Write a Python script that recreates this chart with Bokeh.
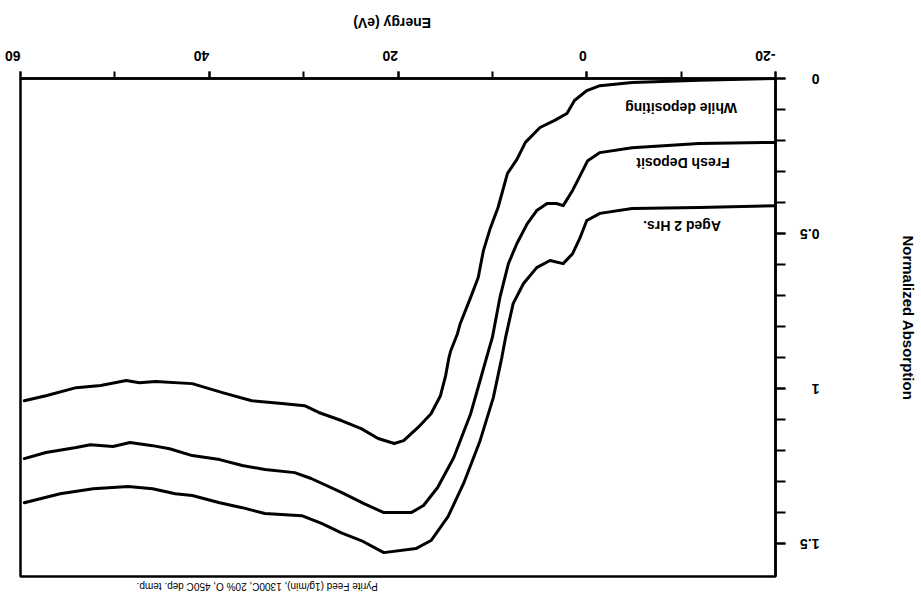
import math
from bokeh.plotting import figure
from bokeh.models import (Range1d, SingleIntervalTicker, FixedTicker, Label, LinearAxis,
                          NumeralTickFormatter, CustomJSTickFormatter)
from bokeh.embed import file_html
from bokeh.resources import INLINE

# ---- data ----
energy_depositing = [59.6, 57.3, 54.1, 51.5, 48.8, 47.4, 45.7, 41.8, 38.6, 35.5, 32.3, 29.9, 28.4, 26.0, 23.9,
                     22.1, 20.4, 19.4, 17.9, 16.5, 15.5, 14.95, 14.6, 14.4, 13.7, 13.4, 12.3, 11.5, 10.95, 10.2,
                     9.4, 8.4, 7.4, 6.5, 4.95, 3.4, 2.1, 1.3, 0.0, -1.4, -4.8, -11.9, -20.0]
abs_depositing = [1.039, 1.023, 0.997, 0.990, 0.974, 0.981, 0.977, 0.984, 1.013, 1.039, 1.048, 1.055, 1.077, 1.103, 1.129,
                  1.161, 1.177, 1.168, 1.126, 1.081, 1.023, 0.958, 0.900, 0.877, 0.823, 0.790, 0.706, 0.642, 0.555, 0.481,
                  0.416, 0.306, 0.261, 0.206, 0.158, 0.135, 0.113, 0.071, 0.039, 0.023, 0.013, 0.006, 0.0]

energy_fresh = [59.6, 57.3, 54.1, 52.6, 50.2, 48.4, 46.0, 44.2, 41.8, 38.9, 36.5, 34.1, 30.95, 29.2, 26.0,
                23.6, 21.5, 18.6, 17.3, 15.8, 14.1, 12.3, 11.3, 10.4, 10.0, 9.2, 8.3, 7.4, 6.3, 5.3,
                4.2, 3.2, 2.5, 1.5, 0.7, -0.1, -1.4, -4.8, -11.9, -20.0]
abs_fresh = [1.226, 1.206, 1.190, 1.181, 1.187, 1.174, 1.184, 1.194, 1.216, 1.229, 1.248, 1.261, 1.271, 1.290, 1.335,
             1.371, 1.400, 1.400, 1.377, 1.319, 1.223, 1.081, 0.974, 0.877, 0.835, 0.706, 0.597, 0.532, 0.468, 0.426,
             0.403, 0.403, 0.410, 0.361, 0.313, 0.265, 0.239, 0.223, 0.210, 0.206]

energy_aged = [59.6, 55.8, 52.3, 48.6, 46.0, 43.6, 41.8, 38.9, 36.5, 34.1, 30.2, 28.1, 26.0, 23.9, 21.5,
               18.1, 16.5, 14.7, 13.05, 11.3, 9.9, 9.0, 8.6, 7.8, 6.7, 5.3, 3.9, 2.5, 1.5, 0.7,
               0.0, -1.4, -4.8, -11.9, -20.0]
abs_aged = [1.368, 1.339, 1.323, 1.316, 1.323, 1.339, 1.345, 1.368, 1.384, 1.403, 1.410, 1.435, 1.465, 1.490, 1.529,
            1.516, 1.490, 1.413, 1.306, 1.168, 1.029, 0.900, 0.835, 0.726, 0.661, 0.610, 0.587, 0.597, 0.565, 0.513,
            0.458, 0.435, 0.419, 0.416, 0.410]

series_names = ["While depositing", "Fresh Deposit", "Aged 2 Hrs."]
label_x = [-10.0, -10.2, -10.1]
label_y = [0.094, 0.274, 0.477]

y_ticks = [0, 0.5, 1, 1.5]
y_minor = [0.1 * i for i in range(16)]

x_title = "Energy (eV)"
y_title = "Normalized Absorption"
top_title = "Pyrite Feed (1g/min), 1300C, 20% O, 450C dep. temp."

FONT = "Liberation Sans"
UP = math.pi  # the scanned page is upside down

p = figure(frame_width=755, frame_height=498,
           min_border_left=20, min_border_right=146, min_border_top=78, min_border_bottom=32,
           x_range=Range1d(60.0, -20.0), y_range=Range1d(1.606, 0.0),
           x_axis_location="above", y_axis_location="right",
           output_backend="svg", toolbar_location=None)

p.xgrid.visible = False
p.ygrid.visible = False
p.outline_line_color = "black"
p.outline_line_width = 2.5
p.background_fill_color = "white"
p.border_fill_color = "white"

xa = p.xaxis[0]
xa.ticker = SingleIntervalTicker(interval=20, num_minor_ticks=2)
xa.formatter = NumeralTickFormatter(format="0")
xa.axis_line_width = 2.5
xa.major_tick_line_width = 2
xa.minor_tick_line_width = 2
xa.major_tick_out = 7
xa.major_tick_in = 0
xa.minor_tick_out = 7
xa.minor_tick_in = 0
xa.major_label_orientation = UP
xa.major_label_standoff = 16
xa.major_label_text_font = FONT
xa.major_label_text_font_style = "bold"
xa.major_label_text_font_size = "14px"
xa.major_label_text_color = "black"

ya = p.yaxis[0]
ya.ticker = FixedTicker(ticks=y_ticks, minor_ticks=y_minor)
ya.axis_line_width = 2.5
ya.major_tick_line_width = 2
ya.minor_tick_line_width = 2
ya.major_tick_out = 10
ya.major_tick_in = 0
ya.minor_tick_out = 10
ya.minor_tick_in = 0
ya.major_label_orientation = UP
ya.major_label_standoff = 34
ya.major_label_text_font = FONT
ya.major_label_text_font_style = "bold"
ya.major_label_text_font_size = "14px"
ya.major_label_text_color = "black"


def title_axis(text, position, orientation, standoff, size, style):
    # an axis with no rule and no tick marks; its single tick label carries a title
    return LinearAxis(ticker=FixedTicker(ticks=[position], minor_ticks=[]),
                      formatter=CustomJSTickFormatter(args=dict(label=text), code="return label"),
                      axis_line_color=None, major_tick_line_color=None, minor_tick_line_color=None,
                      major_tick_out=0, major_tick_in=0, minor_tick_out=0, minor_tick_in=0,
                      major_label_orientation=orientation, major_label_standoff=standoff,
                      major_label_text_font=FONT, major_label_text_font_style=style,
                      major_label_text_font_size=size, major_label_text_color="black")


p.add_layout(title_axis(x_title, 16.5, UP, 20, "14px", "bold"), "above")
p.add_layout(title_axis(y_title, 0.506, -math.pi / 2, 67, "15px", "bold"), "right")
p.add_layout(title_axis(top_title, 47.7, UP, 10, "10px", "normal"), "below")

for xs, ys in [(energy_depositing, abs_depositing), (energy_fresh, abs_fresh), (energy_aged, abs_aged)]:
    p.line(xs, ys, line_color="black", line_width=3, line_join="round", line_cap="round")

for name, lx, ly in zip(series_names, label_x, label_y):
    p.add_layout(Label(x=lx, y=ly, text=name, angle=UP, text_align="center", text_baseline="middle",
                       text_font=FONT, text_font_style="bold", text_font_size="14px", text_color="black"))

open("out.html", "w").write(file_html(p, INLINE))
